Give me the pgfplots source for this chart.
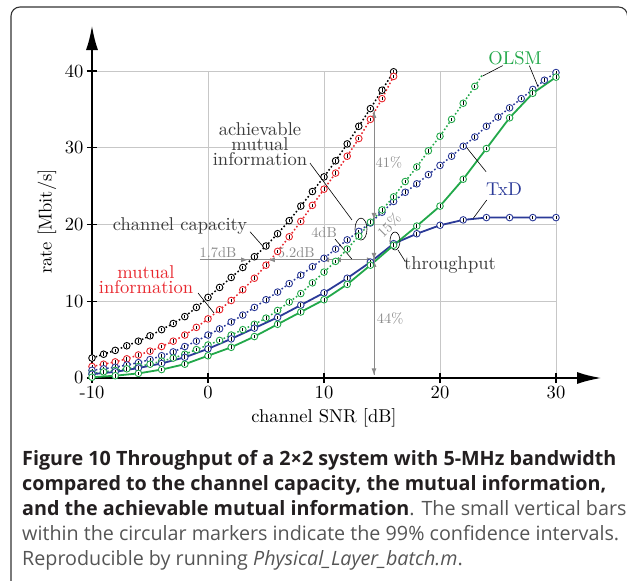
\documentclass[border=0pt]{standalone}
\usepackage{fontspec}
\usepackage{pgfplots}
\pgfplotsset{compat=1.18}
\usetikzlibrary{arrows.meta}
\setmainfont{lmroman10-regular.otf}
\newfontfamily\capfont{Open Sans}

\definecolor{cred}{HTML}{E8262D}
\definecolor{cblue}{HTML}{2B3A98}
\definecolor{cgreen}{HTML}{22A84A}
\definecolor{agray}{HTML}{8A8A8A}
\definecolor{tgray}{HTML}{3A3A3A}
\definecolor{capbold}{HTML}{231F20}
\definecolor{capreg}{HTML}{555555}

% circle with a small confidence bar inside
\pgfdeclareplotmark{ci}{%
  \pgfpathcircle{\pgfpointorigin}{\pgfplotmarksize}%
  \pgfusepathqfillstroke
  \begin{pgfscope}%
    \pgfsetstrokecolor{black}%
    \pgfsetlinewidth{0.7bp}%
    \pgfpathmoveto{\pgfqpoint{0pt}{-0.55\pgfplotmarksize}}%
    \pgfpathlineto{\pgfqpoint{0pt}{0.55\pgfplotmarksize}}%
    \pgfusepathqstroke
  \end{pgfscope}%
}

\pgfplotsset{
  dotline/.style={dash pattern=on 1.6bp off 2.2bp, line width=1.5bp,
    mark=ci, mark size=3.3bp, mark options={solid, fill=white, line width=0.9bp}},
  solidline/.style={solid, line width=1.8bp,
    mark=ci, mark size=3.3bp, mark options={solid, fill=white, line width=0.9bp}},
}

\newcommand{\fbig}{\fontsize{18.6}{20}\selectfont}
\newcommand{\fsmall}{\fontsize{14.5}{16}\selectfont}

\pgfplotstableread{
snr rate
-10 2.6
-9 3.1
-8 3.6
-7 4.2
-6 4.8
-5 5.5
-4 6.3
-3 7.1
-2 8.0
-1 9.2
0 10.5
1 11.8
2 13.1
3 14.4
4 15.8
5 17.2
6 18.8
7 20.5
8 22.4
9 24.3
10 26.2
11 28.3
12 30.5
13 32.8
14 35.1
15 37.5
16 39.9
}\capacity

\pgfplotstableread{
snr rate
-10 1.5
-9 1.8
-8 2.1
-7 2.5
-6 3.0
-5 3.5
-4 4.1
-3 4.8
-2 5.6
-1 6.6
0 7.7
1 8.9
2 10.1
3 11.5
4 13.0
5 14.7
6 16.5
7 18.4
8 20.4
9 22.5
10 24.6
11 26.7
12 28.9
13 31.2
14 33.7
15 36.4
16 39.3
}\mutinfo

\pgfplotstableread{
snr rate
-10 1.0
-9 1.2
-8 1.4
-7 1.7
-6 2.0
-5 2.4
-4 2.9
-3 3.4
-2 4.1
-1 4.8
0 5.6
1 6.4
2 7.3
3 8.2
4 9.2
5 10.2
6 11.2
7 12.3
8 13.4
9 14.5
10 15.6
11 16.8
12 18.0
13 19.1
14 20.2
15 21.6
16 23.0
17 24.2
18 25.3
19 26.5
20 27.7
21 28.9
22 30.2
23 31.4
24 32.8
25 34.0
26 35.2
27 36.4
28 37.6
29 38.8
30 39.8
}\amiTxD

\pgfplotstableread{
snr rate
-10 0.6
-9 0.8
-8 1.0
-7 1.2
-6 1.5
-5 1.8
-4 2.2
-3 2.6
-2 3.1
-1 3.7
0 4.3
1 4.9
2 5.6
3 6.3
4 7.0
5 7.8
6 8.8
7 9.9
8 11.0
9 12.4
10 13.8
11 15.2
12 16.8
13 18.5
14 20.3
15 21.9
16 23.6
17 25.6
18 27.5
19 29.6
20 31.5
21 33.7
22 35.8
23 38.0
23.7 39.6
}\amiOLSM

\pgfplotstableread{
snr rate
-10 0.5
-8 0.8
-6 1.3
-4 1.9
-2 2.7
0 3.8
2 5.1
4 6.5
6 7.9
8 9.5
10 11.1
12 13.0
14 15.1
16 17.5
18 18.8
20 19.9
22 20.6
24 20.9
26 20.9
28 20.9
30 20.9
}\thrTxD

\pgfplotstableread{
snr rate
-10 0.1
-8 0.3
-6 0.6
-4 1.1
-2 1.8
0 2.9
2 4.0
4 5.4
6 7.0
8 8.6
10 10.2
12 12.2
14 14.7
16 17.3
18 19.8
20 22.4
22 25.9
24 29.9
26 33.9
28 37.1
30 39.2
}\thrOLSM

\begin{document}
\begin{tikzpicture}
\path[use as bounding box] (0,0) rectangle (627bp,-581bp);
% caption frame
\draw[line width=1.1bp, black!80, rounded corners=9bp] (11bp,-583bp) -- (11bp,-7bp) -- (627.6bp,-7bp) -- (627.6bp,-583bp);

\begin{axis}[
  at={(92bp,-378bp)}, anchor=south west,
  scale only axis, width=464bp, height=307bp,
  xmin=-10, xmax=30, ymin=0, ymax=40,
  axis lines=left,
  x axis line style={line width=2.5bp, -{Latex[length=25bp,width=12bp]}, shorten >=-46bp},
  y axis line style={line width=2.5bp, -{Latex[length=25bp,width=12bp]}, shorten >=-46bp},
  xtick={-10,0,10,20,30}, xticklabels={-10,0,10,20,30},
  ytick={0,10,20,30,40}, yticklabels={0,10,20,30,40},
  tick align=center, major tick length=10bp,
  tick style={black, line width=1.4bp},
  grid=major, grid style={black!22, line width=0.9bp},
  tick label style={font=\fbig, text=black},
  xlabel={channel SNR [dB]}, ylabel={rate [Mbit/s]},
  label style={font=\fbig},
  xlabel style={at={(axis description cs:0.5,-0.130)}, anchor=center},
  ylabel style={at={(axis description cs:-0.097,0.51)}, anchor=center},
  clip=false,
]
\addplot[dotline, black] table[x=snr, y=rate] {\capacity};
\addplot[dotline, cred] table[x=snr, y=rate] {\mutinfo};
\addplot[dotline, cblue] table[x=snr, y=rate] {\amiTxD};
\addplot[dotline, cgreen, mark indices={1,...,34}] table[x=snr, y=rate] {\amiOLSM};
\addplot[solidline, cblue] table[x=snr, y=rate] {\thrTxD};
\addplot[solidline, cgreen] table[x=snr, y=rate] {\thrOLSM};

% gray measurement arrows
\begin{scope}[agray, line width=0.9bp, >={Latex[length=7bp,width=5bp]}]
\draw (-0.69,15.4) -- (14.31,15.4);
\draw[->] (1.5,15.4) -- (3.45,15.4);
\draw[->] (7.0,15.4) -- (5.17,15.4);
\draw[->] (11.5,15.4) -- (9.83,15.4);
\draw[->] (12.5,15.4) -- (10.86,15.4);
\draw[->] (12.5,15.4) -- (14.31,15.4);
\draw (14.31,34.8) -- (14.31,0.35);
\draw[->] (14.31,30) -- (14.31,34.8);
\draw[->] (14.31,26) -- (14.31,20.6);
\draw[->] (14.31,18.5) -- (14.31,15.4);
\draw[->] (14.31,12) -- (14.31,15.4);
\draw[->] (14.31,5) -- (14.31,0.35);
\end{scope}
\node[agray, font=\fsmall] at (0.86,16.35) {1.7dB};
\node[agray, font=\fsmall] at (7.6,16.35) {5.2dB};
\node[agray, font=\fsmall] at (10.0,18.9) {4dB};
\node[agray, font=\fsmall] at (15.6,28.1) {41\%};
\node[agray, font=\fsmall] at (15.7,7.8) {44\%};
\node[agray, font=\fsmall, rotate=45] at (15.6,19.9) {15\%};

% leaders and ellipses
\begin{scope}[black, line width=0.6bp]
\draw (10.95,18.1) -- (12.4,15.5);
\draw (8.79,28.0) -- (12.41,20.6);
\draw (13.19,19.4) ellipse [x radius=6bp, y radius=11bp];
\draw (3.62,19.06) -- (4.77,17.1);
\draw (-0.86,11.07) -- (0.52,8.47);
\draw (25.4,40.7) -- (23.68,39.35);
\draw (27.7,40.7) -- (28.47,37.88);
\draw (23.97,26.88) -- (22.0,30.58);
\draw (24.03,23.19) -- (22.87,20.81);
\draw (16.12,17.85) ellipse [x radius=5bp, y radius=9bp];
\draw (16.38,16.68) -- (16.98,15.24);
\end{scope}

% series labels
\node[tgray, align=center, font=\fontsize{18.6}{15}\selectfont] at (4.48,30.5) {achievable\\mutual\\information};
\node[tgray, font=\fbig] at (-2.41,19.8) {channel capacity};
\node[cred, align=center, font=\fontsize{18.6}{15}\selectfont] at (-5.34,12.83) {mutual\\information};
\node[cgreen, font=\fbig] at (26.47,41.67) {OLSM};
\node[cblue, font=\fbig] at (25.52,24.61) {TxD};
\node[tgray, font=\fbig] at (20.86,14.71) {throughput};
\end{axis}

% caption
\begin{scope}[every node/.style={anchor=base west, inner sep=0pt, font=\capfont\fontsize{19.8}{22}\selectfont}]
\node[text=capbold] at (22bp,-465bp) {\textbf{Figure 10 Throughput of a 2×2 system with 5-MHz bandwidth}};
\node[text=capbold] at (22bp,-490bp) {\textbf{compared to the channel capacity, the mutual information,}};
\node[text=capbold] at (22bp,-515bp) {\textbf{and the achievable mutual information}\textcolor{capreg}{. The small vertical bars}};
\node[text=capreg] at (22bp,-540bp) {within the circular markers indicate the 99\% confidence intervals.};
\node[text=capreg] at (22bp,-565bp) {Reproducible by running \textit{Physical\_Layer\_batch.m}.};
\end{scope}
\end{tikzpicture}
\end{document}
